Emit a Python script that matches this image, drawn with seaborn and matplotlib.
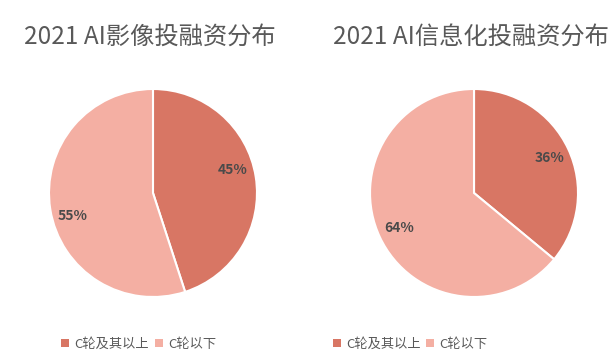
import matplotlib
matplotlib.use('Agg')
import matplotlib.pyplot as plt
from matplotlib.patches import Patch
import numpy as np
import seaborn as sns

# data
titles = ['2021 AI影像投融资分布', '2021 AI信息化投融资分布']
categories = ['C轮及其以上', 'C轮以下']
imaging = [45, 55]
informatization = [36, 64]

sns.set_theme(style='white')
plt.rcParams['font.family'] = ['Noto Sans CJK SC', 'DejaVu Sans']

colors = sns.color_palette(['#D87664', '#F4AFA3'])
text_color = '#595959'

fig = plt.figure(figsize=(6.11, 3.6), dpi=100)

boxes = [[0.0802, 0.175, 0.3404, 0.5778], [0.6056, 0.175, 0.3404, 0.5778]]
title_x = [0.2455, 0.771]
legend_x = [0.227, 0.672]
label_shift = [7, 0]  # excel nudged the left chart's labels a bit

for box, vals, title, tx, lx, sh in zip(boxes, [imaging, informatization], titles,
                                        title_x, legend_x, label_shift):
    ax = fig.add_axes(box)
    wedges, texts, autotexts = ax.pie(
        vals, colors=colors, startangle=90, counterclock=False,
        autopct=lambda p: f'{p:.0f}%', pctdistance=0.8,
        wedgeprops=dict(edgecolor='white', linewidth=1.5),
        textprops=dict(color='#4a4a4a', fontsize=10, fontweight='bold'))
    for w, t in zip(wedges, autotexts):
        a = np.deg2rad((w.theta1 + w.theta2) / 2 + sh)
        t.set_position((0.8 * np.cos(a), 0.8 * np.sin(a)))
    ax.set_xlim(-1, 1)
    ax.set_ylim(-1, 1)
    ax.set_aspect('equal')
    fig.text(tx, 0.897, title, ha='center', va='center', fontsize=17.5,
             color=text_color)

    handles = [Patch(facecolor=c, edgecolor='none') for c in colors]
    fig.legend(handles, categories, loc='center', bbox_to_anchor=(lx, 0.044),
               ncol=2, frameon=False, fontsize=9.5, handlelength=0.6, handleheight=0.6,
               handletextpad=0.4, columnspacing=0.4, labelcolor=text_color)

fig.savefig('out.png', dpi=100)
